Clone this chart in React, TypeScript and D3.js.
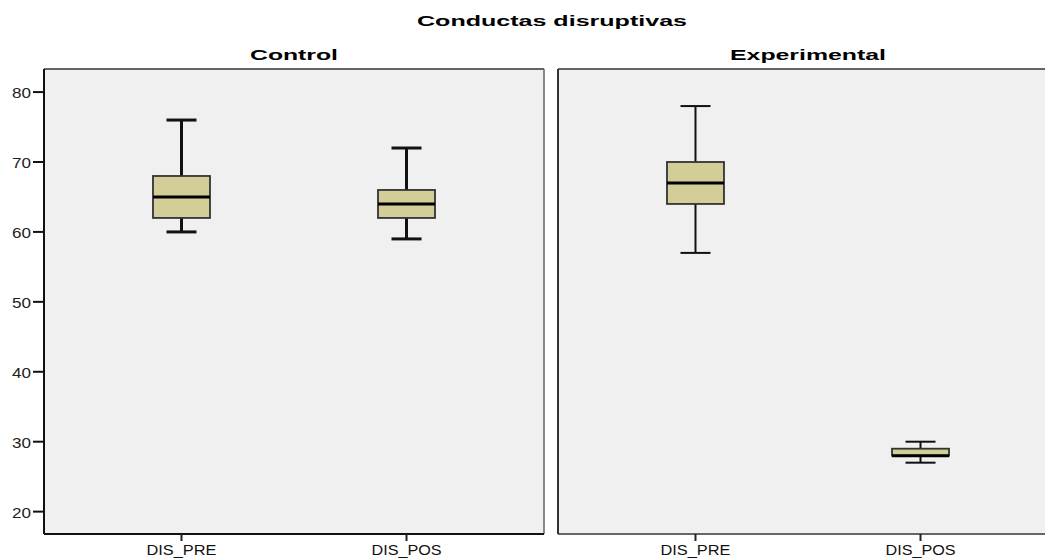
import React from "react";
import * as d3 from "d3";

// Box-plot summaries per group (whisker min, Q1, median, Q3, whisker max)
const groups = ["Control", "Experimental"];
const variables = ["DIS_PRE", "DIS_POS"];
const whiskerLow = [[60, 59], [57, 27]];
const quartile1 = [[62, 62], [64, 28]];
const medians = [[65, 64], [67, 28]];
const quartile3 = [[68, 66], [70, 29]];
const whiskerHigh = [[76, 72], [78, 30]];
const yTicks = [20, 30, 40, 50, 60, 70, 80];
const chartTitle = "Conductas disruptivas";

const W = 1045;
const H = 558;
const top = 69;
const bottom = 534;
const panelW = 500;
const panelX = [44, 558];
const boxW = 57;
const capW = 30;

export default function App() {
  const y = d3.scaleLinear().domain([16.8, 83.3]).range([bottom, top]);
  const x = d3.scalePoint<string>().domain(variables).range([0, panelW]).padding(0.611);
  const font = "'Liberation Sans', Arial, sans-serif";
  const labelWidths = [88, 156];

  return (
    <svg width={W} height={H} style={{ position: "absolute", left: 0, top: 0, background: "#fff" }} fontFamily={font}>
      <text x={552} y={26} textAnchor="middle" fontSize={15} fontWeight="bold" textLength={270} lengthAdjust="spacingAndGlyphs" fill="#000">
        {chartTitle}
      </text>
      {groups.map((g, gi) => {
        const x0 = panelX[gi];
        const thick = gi === 0 ? 3 : 2;
        return (
          <g key={g}>
            <text x={x0 + panelW / 2} y={60} textAnchor="middle" fontSize={14} fontWeight="bold" textLength={labelWidths[gi]} lengthAdjust="spacingAndGlyphs">
              {g}
            </text>
            <rect x={x0} y={top} width={panelW} height={bottom - top} fill="#f0f0f0" />
            {/* frame */}
            <line x1={x0} x2={x0 + panelW} y1={top} y2={top} stroke="#333" strokeWidth={1.5} />
            <line x1={x0 + panelW} x2={x0 + panelW} y1={top} y2={bottom} stroke="#666" strokeWidth={1.5} />
            <line x1={x0} x2={x0 + panelW} y1={bottom} y2={bottom} stroke={gi === 0 ? "#111" : "#666"} strokeWidth={2} />
            <line x1={x0} x2={x0} y1={top} y2={bottom} stroke={gi === 0 ? "#111" : "#333"} strokeWidth={2} />
            {variables.map((v, vi) => {
              const cx = x0 + (x(v) as number);
              return (
                <g key={v}>
                  <line x1={cx} x2={cx} y1={y(whiskerHigh[gi][vi])} y2={y(quartile3[gi][vi])} stroke="#111" strokeWidth={thick} />
                  <line x1={cx} x2={cx} y1={y(quartile1[gi][vi])} y2={y(whiskerLow[gi][vi])} stroke="#111" strokeWidth={thick} />
                  <line x1={cx - capW / 2} x2={cx + capW / 2} y1={y(whiskerHigh[gi][vi])} y2={y(whiskerHigh[gi][vi])} stroke="#111" strokeWidth={thick} />
                  <line x1={cx - capW / 2} x2={cx + capW / 2} y1={y(whiskerLow[gi][vi])} y2={y(whiskerLow[gi][vi])} stroke="#111" strokeWidth={thick} />
                  <rect
                    x={cx - boxW / 2}
                    y={y(quartile3[gi][vi])}
                    width={boxW}
                    height={y(quartile1[gi][vi]) - y(quartile3[gi][vi])}
                    fill="#d3ce97"
                    stroke="#333"
                    strokeWidth={1.8}
                  />
                  <line x1={cx - boxW / 2} x2={cx + boxW / 2} y1={y(medians[gi][vi])} y2={y(medians[gi][vi])} stroke="#000" strokeWidth={3} />
                  <line x1={cx} x2={cx} y1={bottom} y2={bottom + 7} stroke="#222" strokeWidth={2} />
                  <text x={cx} y={555} textAnchor="middle" fontSize={14} textLength={70} lengthAdjust="spacingAndGlyphs" fill="#111">
                    {v}
                  </text>
                </g>
              );
            })}
          </g>
        );
      })}
      {/* shared y axis */}
      {yTicks.map((t) => (
        <g key={t}>
          <line x1={33} x2={44} y1={y(t)} y2={y(t)} stroke="#111" strokeWidth={2} />
          <text x={31} y={y(t)} dy={6} textAnchor="end" fontSize={14} textLength={19} lengthAdjust="spacingAndGlyphs" fill="#222">
            {t}
          </text>
        </g>
      ))}
    </svg>
  );
}
